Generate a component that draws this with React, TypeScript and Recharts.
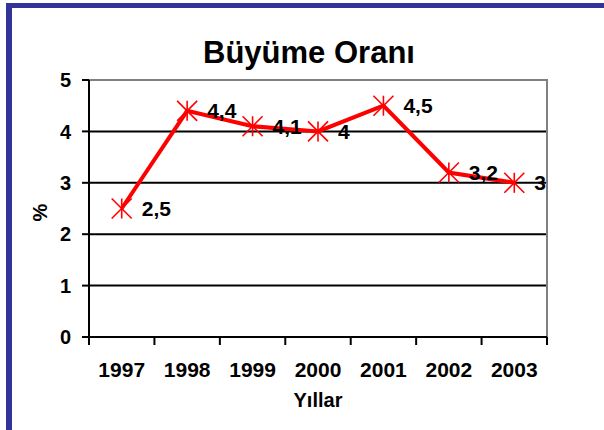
import { LineChart, Line, XAxis, YAxis, CartesianGrid, ReferenceArea, LabelList } from 'recharts';

const years = ['1997', '1998', '1999', '2000', '2001', '2002', '2003'];
const rates = [2.5, 4.4, 4.1, 4, 4.5, 3.2, 3];
const yTicks = [0, 1, 2, 3, 4, 5];

const chartData = years.map((year, i) => ({ year, rate: rates[i] }));

const FONT = 'Arial, "Liberation Sans", sans-serif';
const FRAME = '#333399';

// Excel style asterisk marker
function StarDot({ cx, cy }: { cx?: number; cy?: number }) {
    if (cx == null || cy == null) return null;
    const r = 10;
    return (
        <g stroke="#ff0000" strokeWidth={1.6}>
            <line x1={cx} y1={cy - r} x2={cx} y2={cy + r} />
            <line x1={cx - r} y1={cy - r} x2={cx + r} y2={cy + r} />
            <line x1={cx - r} y1={cy + r} x2={cx + r} y2={cy - r} />
        </g>
    );
}

// tick marks sit on the category boundaries, labels in the middle
function YearTick(props: any) {
    const { x, y, payload, index, visibleTicksCount } = props;
    const half = payload?.offset ?? 0;
    return (
        <g>
            <line x1={x - half} y1={y} x2={x - half} y2={y + 8} stroke="#000" strokeWidth={2} />
            {index === visibleTicksCount - 1 && (
                <line x1={x + half} y1={y} x2={x + half} y2={y + 8} stroke="#000" strokeWidth={2} />
            )}
            <text x={x} y={y + 25} dy="0.71em" textAnchor="middle" fontFamily={FONT} fontSize={21} fontWeight="bold" fill="#000">
                {payload.value}
            </text>
        </g>
    );
}

function ValueLabel(props: any) {
    const { x, y, value } = props;
    return (
        <text x={x + 20} y={y} dominantBaseline="central" fontFamily={FONT} fontSize={21} fontWeight="bold" fill="#000">
            {String(value).replace('.', ',')}
        </text>
    );
}

export default function App() {
    return (
        <div style={{ position: 'absolute', left: 0, top: 0, width: 604, height: 430, background: '#fff' }}>
            {/* blue frame, left and top only */}
            <div style={{ position: 'absolute', left: 6, top: 3, width: 598, height: 5, background: FRAME }} />
            <div style={{ position: 'absolute', left: 6, top: 3, width: 6, height: 427, background: FRAME }} />
            <div style={{ position: 'absolute', left: 0, top: 0 }}>
                <LineChart width={604} height={430} data={chartData} margin={{ top: 80, right: 57, bottom: 33, left: 49 }}>
                    <text x={309} y={63} textAnchor="middle" fontFamily={FONT} fontSize={31} fontWeight="bold" fill="#000">
                        Büyüme Oranı
                    </text>
                    <CartesianGrid vertical={false} horizontalValues={[1, 2, 3, 4]} stroke="#000" strokeWidth={2} />
                    <ReferenceArea x1="1997" x2="2003" y1={0} y2={5} fill="none" stroke="#808080" strokeWidth={2} />
                    <XAxis
                        dataKey="year"
                        scale="band"
                        height={60}
                        axisLine={{ stroke: '#000', strokeWidth: 2 }}
                        tickLine={false}
                        tickSize={0}
                        tickMargin={0}
                        tick={<YearTick />}
                        interval={0}
                        label={{
                            content: ({ viewBox }: any) => (
                                <text
                                    x={viewBox.x + viewBox.width / 2}
                                    y={407}
                                    textAnchor="middle"
                                    fontFamily={FONT}
                                    fontSize={20}
                                    fontWeight="bold"
                                    fill="#000"
                                >
                                    Yıllar
                                </text>
                            ),
                        }}
                    />
                    <YAxis
                        width={40}
                        domain={[0, 5]}
                        ticks={yTicks}
                        interval={0}
                        axisLine={{ stroke: '#000', strokeWidth: 2 }}
                        tickLine={{ stroke: '#000', strokeWidth: 2 }}
                        tickSize={7}
                        tickMargin={11}
                        tick={{ fill: '#000', fontFamily: FONT, fontSize: 20, fontWeight: 'bold' }}
                        label={{
                            content: ({ viewBox }: any) => {
                                const cx = viewBox.x - 9;
                                const cy = viewBox.y + viewBox.height / 2 + 4;
                                return (
                                    <text
                                        x={cx}
                                        y={cy}
                                        transform={`rotate(-90 ${cx} ${cy})`}
                                        textAnchor="middle"
                                        dominantBaseline="central"
                                        fontFamily={FONT}
                                        fontSize={20}
                                        fontWeight="bold"
                                        fill="#000"
                                    >
                                        %
                                    </text>
                                );
                            },
                        }}
                    />
                    <Line
                        dataKey="rate"
                        stroke="#ff0000"
                        strokeWidth={4}
                        dot={<StarDot />}
                        activeDot={false}
                        isAnimationActive={false}
                    >
                        <LabelList dataKey="rate" content={<ValueLabel />} />
                    </Line>
                </LineChart>
            </div>
        </div>
    );
}
